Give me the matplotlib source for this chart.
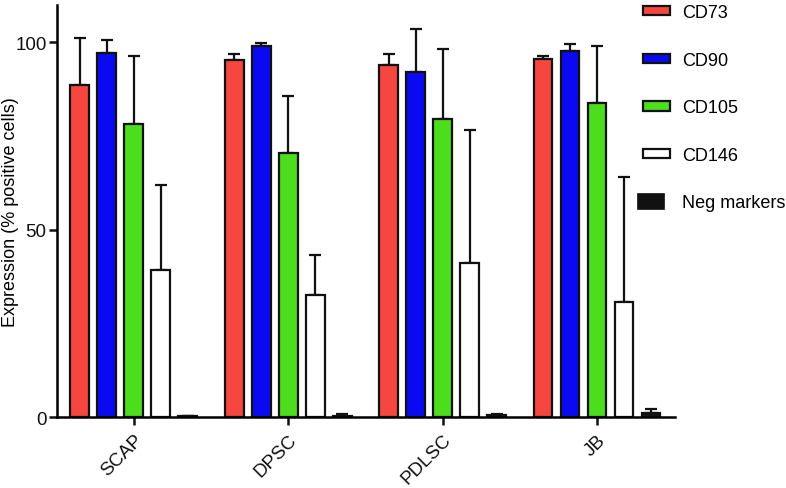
import numpy as np
import matplotlib
matplotlib.use("Agg")
import matplotlib.pyplot as plt
from matplotlib.patches import Patch, Rectangle
from matplotlib.legend_handler import HandlerPatch

plt.rcParams['font.family'] = ['Liberation Sans', 'DejaVu Sans']

# Daten
groups = ['SCAP', 'DPSC', 'PDLSC', 'JB']
markers = ['CD73', 'CD90', 'CD105', 'CD146', 'Neg markers']
cd73 = [88.5, 95.4, 94.0, 95.6]
cd73_err = [12.6, 1.6, 3.0, 0.7]
cd90 = [97.2, 98.9, 92.2, 97.7]
cd90_err = [3.3, 0.8, 11.4, 1.9]
cd105 = [78.2, 70.6, 79.5, 83.7]
cd105_err = [18.2, 15.2, 18.6, 15.4]
cd146 = [39.3, 32.6, 41.1, 30.8]
cd146_err = [22.7, 10.7, 35.5, 33.2]
neg = [0.2, 0.4, 0.5, 1.0]
neg_err = [0.1, 0.3, 0.4, 1.1]

werte = [cd73, cd90, cd105, cd146, neg]
fehler = [cd73_err, cd90_err, cd105_err, cd146_err, neg_err]
farben = ['#F54640', '#0A0AF2', '#4CDD1C', 'white', '#111111']
fs = 13.5

fig = plt.figure(figsize=(7.86, 4.89), dpi=100)
ax = fig.add_axes([0.0725, 0.145, 0.786, 0.843])

gap = 5.72
centers = np.arange(len(groups)) * gap
for i in range(len(markers)):
    x = centers + (i - 2)
    ax.bar(x, werte[i], width=0.7, color=farben[i], edgecolor='#111111',
           linewidth=1.6, zorder=2)
    ax.errorbar(x, werte[i], yerr=[np.zeros(len(groups)), fehler[i]],
                fmt='none', ecolor='#111111', elinewidth=1.6, capsize=4,
                capthick=1.6, zorder=1)

ax.set_xlim(-2.84, centers[-1] + 2.88)
ax.set_ylim(0, 110)
ax.set_yticks([0, 50, 100])
ax.set_xticks(centers)
ax.set_xticklabels(groups, rotation=45, ha='right', rotation_mode='anchor')
ax.tick_params(axis='both', labelsize=fs, width=1.8, length=6, colors='#111111')
ax.tick_params(axis='y', pad=1.5)
ax.tick_params(axis='x', pad=4)
ax.spines['top'].set_visible(False)
ax.spines['right'].set_visible(False)
ax.spines['left'].set_linewidth(1.8)
ax.spines['bottom'].set_linewidth(1.8)
ax.set_ylabel('Expression (% positive cells)', fontsize=13)
ax.yaxis.set_label_coords(-0.062, 0.5)


# Legende - Neg markers Kaestchen groesser
def neg_patch(legend, orig_handle, xdescent, ydescent, width, height, fontsize):
    return Rectangle((-xdescent - 4, -ydescent - 2.5), width, height + 5)


handles = [Patch(facecolor=farben[i], edgecolor='#111111', linewidth=1.6)
           for i in range(4)]
neg_handle = Patch(facecolor='#111111', edgecolor='#111111', linewidth=0.5)
handles.append(neg_handle)
leg = fig.legend(handles, markers, loc='upper left', bbox_to_anchor=(0.797, 1.0225),
                 frameon=False, fontsize=13, labelspacing=1.69,
                 handlelength=1.5, handleheight=0.42, handletextpad=0.7,
                 handler_map={neg_handle: HandlerPatch(patch_func=neg_patch)})

fig.savefig('out.png', dpi=100)
